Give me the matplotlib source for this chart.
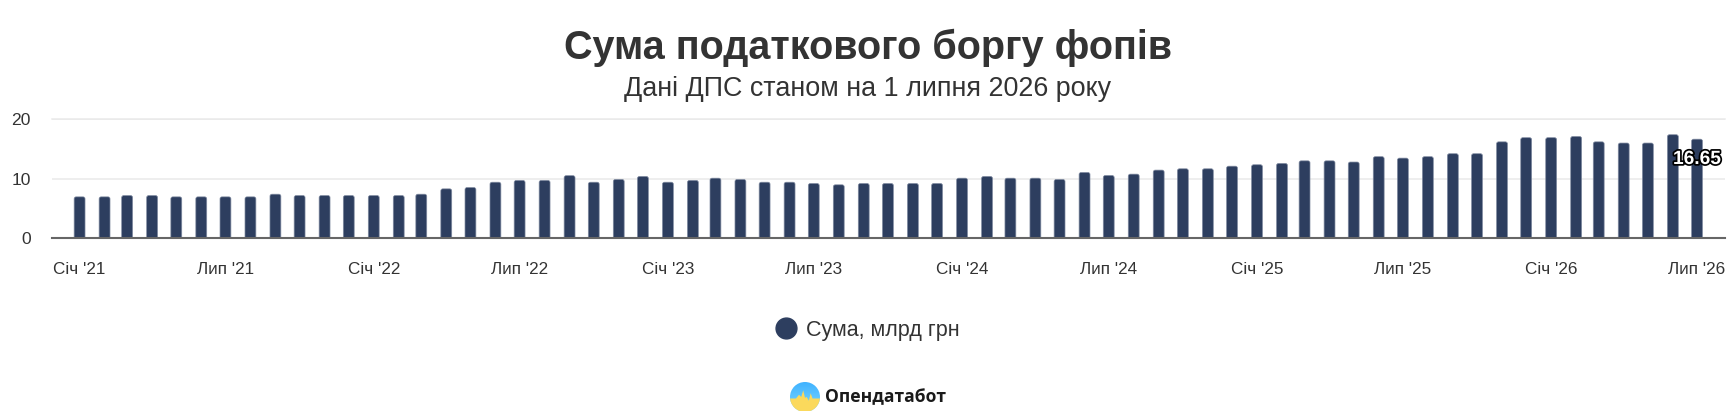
import matplotlib
matplotlib.use('Agg')
import matplotlib.pyplot as plt
import matplotlib.dates as mdates
import matplotlib.patheffects as pe
from matplotlib.lines import Line2D
from matplotlib.patches import Circle, Polygon, FancyBboxPatch
import numpy as np
import pandas as pd

plt.rcParams['font.family'] = ['Liberation Sans', 'DejaVu Sans']

# Data
months = pd.date_range('2021-01-01', '2026-07-01', freq='MS')
values = [
    6.93, 6.93, 7.15, 7.15, 6.93, 6.93, 6.93, 6.93, 7.38, 7.15, 7.15, 7.15,
    7.15, 7.15, 7.38, 8.28, 8.5, 9.4, 9.7, 9.7, 10.5, 9.4, 9.86, 10.37,
    9.4, 9.7, 10.08, 9.86, 9.4, 9.4, 9.18, 8.96, 9.18, 9.18, 9.18, 9.18,
    10.08, 10.37, 10.08, 10.08, 9.86, 11.04, 10.53, 10.76, 11.44, 11.66, 11.66, 12.1,
    12.34, 12.56, 13.0, 13.0, 12.8, 13.7, 13.46, 13.7, 14.2, 14.2, 16.2, 16.9,
    16.9, 17.1, 16.2, 16.0, 16.0, 17.4, 16.65,
]
tick_months = pd.date_range('2021-01-01', '2026-07-01', freq='6MS')
month_names = {1: 'Січ', 7: 'Лип'}
tick_labels = [f"{month_names[d.month]} '{d.year % 100}" for d in tick_months]
y_ticks = [0, 10, 20]

W, H = 1736, 411
NAVY = '#2d3e5f'
TEXT = '#333333'

fig = plt.figure(figsize=(W / 100, H / 100), dpi=100, facecolor='white')
ax = fig.add_axes([51.7 / W, 1 - 238 / H, (1724.6 - 51.7) / W, (238 - 119.3) / H])

x = mdates.date2num(months)
bars = ax.bar(x, values, width=13.5, color=NAVY, zorder=3)
# swap the square bars for ones with slightly rounded tops
for bar in bars:
    bar.set_visible(False)
    rounded = FancyBboxPatch((bar.get_x(), -1), bar.get_width(), bar.get_height() + 1,
                             boxstyle='round,pad=0,rounding_size=2.5', mutation_aspect=0.135,
                             facecolor=NAVY, edgecolor='#7f8aa0', linewidth=0.5, zorder=3)
    ax.add_patch(rounded)
ax.set_xlim(x[0] - 34.6, x[-1] + 34.2)
ax.set_ylim(0, 20)

ax.set_yticks(y_ticks)
ax.set_xticks(mdates.date2num(tick_months))
ax.set_xticklabels(tick_labels)
ax.tick_params(axis='y', length=0, pad=15, labelsize=12.6, labelcolor=TEXT)
ax.tick_params(axis='x', length=0, pad=17, labelsize=12.3, labelcolor=TEXT)
ax.grid(axis='y', color='#e9e9e9', linewidth=1.1, zorder=0)
ax.set_axisbelow(True)
for side in ['right', 'left']:
    ax.spines[side].set_visible(False)
ax.spines['top'].set_color('#e9e9e9')
ax.spines['top'].set_linewidth(1.1)
ax.spines['bottom'].set_color('#666666')
ax.spines['bottom'].set_linewidth(1.5)
ax.spines['bottom'].set_zorder(4)

# label on the last bar
ax.annotate(f'{values[-1]:.2f}', (x[-1], values[-1]), xytext=(0, -8.5), textcoords='offset points',
            ha='center', va='top', fontsize=13.8, fontweight='bold', color='white', zorder=5,
            path_effects=[pe.withStroke(linewidth=2.5, foreground='black')])

fig.text(0.5, 1 - 48 / H, 'Сума податкового боргу фопів', ha='center', va='center',
         fontsize=28.5, fontweight='bold', color=TEXT)
fig.text(0.5, 1 - 89 / H, 'Дані ДПС станом на 1 липня 2026 року', ha='center', va='center',
         fontsize=19.35, color=TEXT)

handle = Line2D([], [], linestyle='none', marker='o', markersize=15,
                markerfacecolor=NAVY, markeredgecolor=NAVY)
fig.legend([handle], ['Сума, млрд грн'], loc='center', bbox_to_anchor=(0.4965, 1 - 330 / H), frameon=False,
           fontsize=15.5, labelcolor=TEXT, handletextpad=-0.1)

# logo
logo = fig.add_axes([790 / W, 1 - 412 / H, 30 / W, 30 / H])
logo.set_xlim(-1, 1)
logo.set_ylim(-1, 1)
logo.axis('off')
disc = Circle((0, 0), 1, transform=logo.transData)
top = np.linspace(0, 1, 50).reshape(-1, 1)
sky = np.ones((50, 1, 3))
sky[:, 0, 0] = 0.25 + 0.25 * top[:, 0]
sky[:, 0, 1] = 0.70 + 0.15 * top[:, 0]
sky[:, 0, 2] = 1.0
img = logo.imshow(sky, extent=(-1, 1, -1, 1), origin='upper', aspect='auto')
img.set_clip_path(disc)
ridge = [(-1, -0.1), (-0.6, -0.1), (-0.4, 0.15), (-0.25, 0.0), (-0.12, 0.45), (0.0, -0.05), (0.12, 0.0),
         (0.25, -0.25), (0.38, 0.25), (0.5, -0.1), (1, -0.1), (1, -1), (-1, -1)]
land = Polygon(ridge, closed=True, facecolor='#fbd95c', edgecolor='none')
logo.add_patch(land)
land.set_clip_path(disc)

fig.text(825 / W, 1 - 397 / H, 'Опендатабот', ha='left', va='center', fontsize=12.6,
         fontweight='bold', family=['Open Sans', 'DejaVu Sans'], color='#1a1a1a')

fig.savefig('out.png', dpi=100)
